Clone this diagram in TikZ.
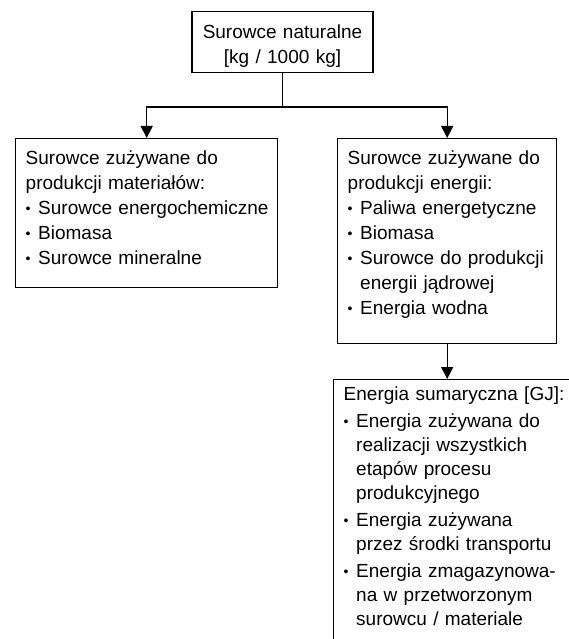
\documentclass[tikz,border=0pt]{standalone}
\usepackage{fontspec}
\setmainfont{Liberation Sans}
\usetikzlibrary{arrows.meta, positioning}

\newcommand{\kropka}{\raisebox{1.5pt}{\fontsize{14}{14}\selectfont\textbullet}\hspace{0.4em}}
\newcommand{\pkt}[1]{\mbox{\kropka #1}}
\newcommand{\wc}{\phantom{\kropka}}

\begin{document}
\begin{tikzpicture}[x=1pt, y=-1pt,
		ramka/.style={draw, line width=1.4pt, align=left, inner xsep=10pt, inner ysep=0pt, font=\fontsize{19}{25}\selectfont},
		strz/.style={line width=1.1pt, -{Triangle[length=12pt,width=12pt]}}]
		\useasboundingbox (0,0) rectangle (569,639);
		% Top box
		\node[ramka, align=center, text width=161pt, text height=27pt, text depth=34pt, anchor=north] (surowce) at (282.5,11) {Surowce naturalne\\{[kg / 1000 kg]}};
		% Second row
		\node[ramka, text width=242pt, text height=26pt, text depth=123pt, anchor=north west] (materialy) at (15,138) {Surowce zużywane do\\produkcji materiałów:\\\pkt{Surowce energochemiczne}\\\pkt{Biomasa}\\\pkt{Surowce mineralne}};
		\node[ramka, text width=199pt, text height=26pt, text depth=179pt, anchor=north west] (energia) at (337,138) {Surowce zużywane do\\produkcji energii:\\\pkt{Paliwa energetyczne}\\\pkt{Biomasa}\\\pkt{Surowce do produkcji}\\\wc energii jądrowej\\\pkt{Energia wodna}};
		% Bottom box, cut by the edge of the page
		\node[ramka, font=\fontsize{19}{24}\selectfont, text width=250pt, text height=21pt, text depth=300pt, anchor=north west] (sumaryczna) at (333,379) {Energia sumaryczna [GJ]:\\[3pt]\pkt{Energia zużywana do}\\\wc realizacji wszystkich\\\wc etapów procesu\\\wc produkcyjnego\\[3pt]\pkt{Energia zużywana}\\\wc przez środki transportu\\[3pt]\pkt{Energia zmagazynowa-}\\\wc na w przetworzonym\\\wc surowcu / materiale};
		% Connectors
		\coordinate (rozgal) at (surowce.south |- 0,107);
		\draw[line width=1.1pt] (surowce.south) -- (rozgal);
		\draw[strz] (rozgal) -| (materialy.north);
		\draw[strz] (rozgal) -| (energia.north);
		\draw[strz] (energia.south) -- (energia.south |- sumaryczna.north);
	\end{tikzpicture}
\end{document}
